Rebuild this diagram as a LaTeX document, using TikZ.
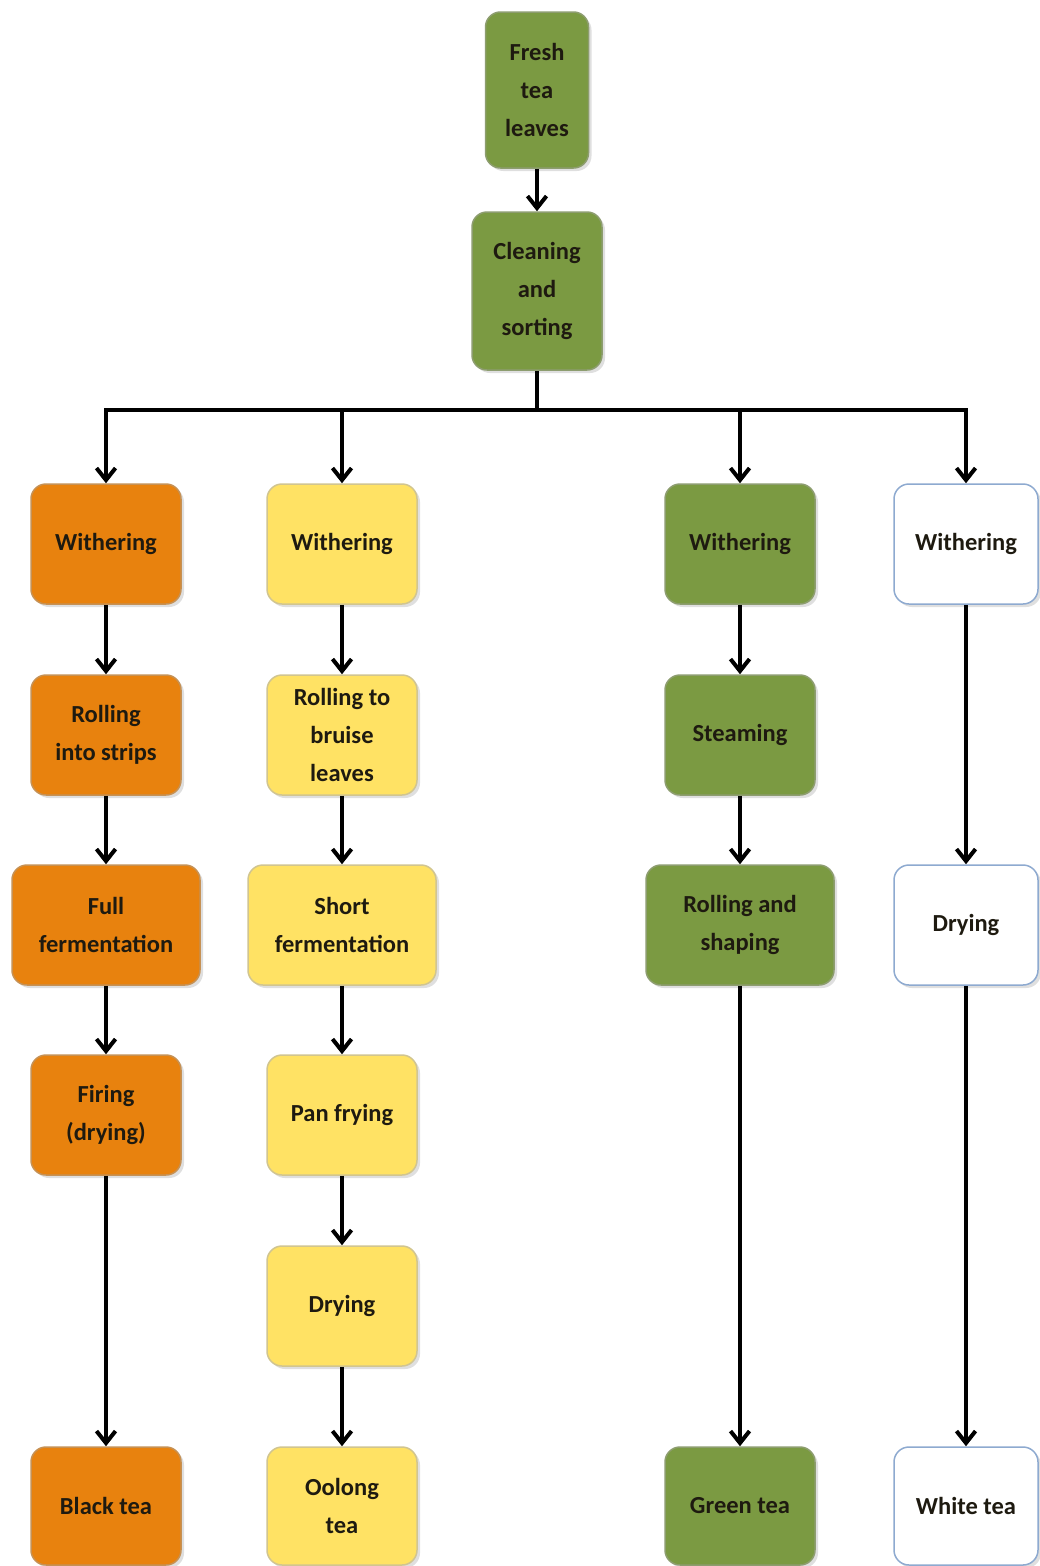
\documentclass[tikz,border=0pt]{standalone}
\usepackage{fontspec}
\setmainfont{Carlito}
\usetikzlibrary{arrows.meta,shadows}
\definecolor{orangefill}{HTML}{E8820E}
\definecolor{yellowfill}{HTML}{FFE264}
\definecolor{greenfill}{HTML}{7B9A42}
\definecolor{whiteborder}{HTML}{8EAAD0}
\definecolor{txt}{HTML}{1E1A10}
\tikzset{
  box/.style={rectangle, rounded corners=15pt, draw=black!35, line width=1.5pt,
    minimum width=150pt, minimum height=120pt, align=center, inner sep=2pt,
    font=\fontsize{24.5}{38}\selectfont\bfseries, text=txt,
    drop shadow={shadow xshift=3pt, shadow yshift=-3pt, opacity=0.25}},
  wide/.style={minimum width=188pt},
  orangebox/.style={box, fill=orangefill, draw=orangefill!75!black!70},
  yellowbox/.style={box, fill=yellowfill, draw=yellowfill!70!black!60},
  greenbox/.style={box, fill=greenfill, draw=greenfill!75!black!70},
  whitebox/.style={box, fill=white, draw=whiteborder},
  arr/.style={line width=3.5pt, -{Straight Barb[length=12pt,width=19pt,line width=4pt]}},
  ln/.style={line width=3.5pt}
}
\begin{document}
\begin{tikzpicture}[x=1pt,y=-1pt]
\useasboundingbox[fill=white] (0,0) rectangle (1039,1566);
% top
\node[greenbox, minimum width=103pt, minimum height=156pt] (fresh) at (537,90) {Fresh\\tea\\leaves};
\node[greenbox, minimum width=130pt, minimum height=158pt] (clean) at (537,291) {Cleaning\\and\\sorting};
\coordinate (bus) at (537,410);
% column 1
\node[orangebox] (bw) at (106,544) {Withering};
\node[orangebox] (br) at (106,735) {Rolling\\into strips};
\node[orangebox, wide] (bf) at (106,925) {Full\\fermentation};
\node[orangebox] (bd) at (106,1115) {Firing\\(drying)};
\node[orangebox, minimum height=118pt] (bt) at (106,1506) {Black tea};
% column 2
\node[yellowbox] (ow) at (342,544) {Withering};
\node[yellowbox] (or) at (342,735) {Rolling to\\bruise\\leaves};
\node[yellowbox, wide] (of) at (342,925) {Short\\fermentation};
\node[yellowbox] (op) at (342,1115) {Pan frying};
\node[yellowbox] (od) at (342,1306) {Drying};
\node[yellowbox, minimum height=118pt] (ot) at (342,1506) {Oolong\\tea};
% column 3
\node[greenbox] (gw) at (740,544) {Withering};
\node[greenbox] (gs) at (740,735) {Steaming};
\node[greenbox, wide] (gr) at (740,925) {Rolling and\\shaping};
\node[greenbox, minimum height=118pt] (gt) at (740,1506) {Green tea};
% column 4
\node[whitebox, minimum width=144pt] (ww) at (966,544) {Withering};
\node[whitebox, minimum width=144pt] (wd) at (966,925) {Drying};
\node[whitebox, minimum width=144pt, minimum height=118pt] (wt) at (966,1506) {White tea};
% connectors
\draw[arr] (fresh) -- (clean);
\draw[ln] (clean.south) -- (bus);
\draw[arr] (bus) -| (bw.north);
\draw[arr] (bus) -| (ow.north);
\draw[arr] (bus) -| (gw.north);
\draw[arr] (bus) -| (ww.north);
\draw[arr] (bw) -- (br);
\draw[arr] (br) -- (bf);
\draw[arr] (bf) -- (bd);
\draw[arr] (bd) -- (bt);
\draw[arr] (ow) -- (or);
\draw[arr] (or) -- (of);
\draw[arr] (of) -- (op);
\draw[arr] (op) -- (od);
\draw[arr] (od) -- (ot);
\draw[arr] (gw) -- (gs);
\draw[arr] (gs) -- (gr);
\draw[arr] (gr) -- (gt);
\draw[arr] (ww) -- (wd);
\draw[arr] (wd) -- (wt);
\end{tikzpicture}
\end{document}
